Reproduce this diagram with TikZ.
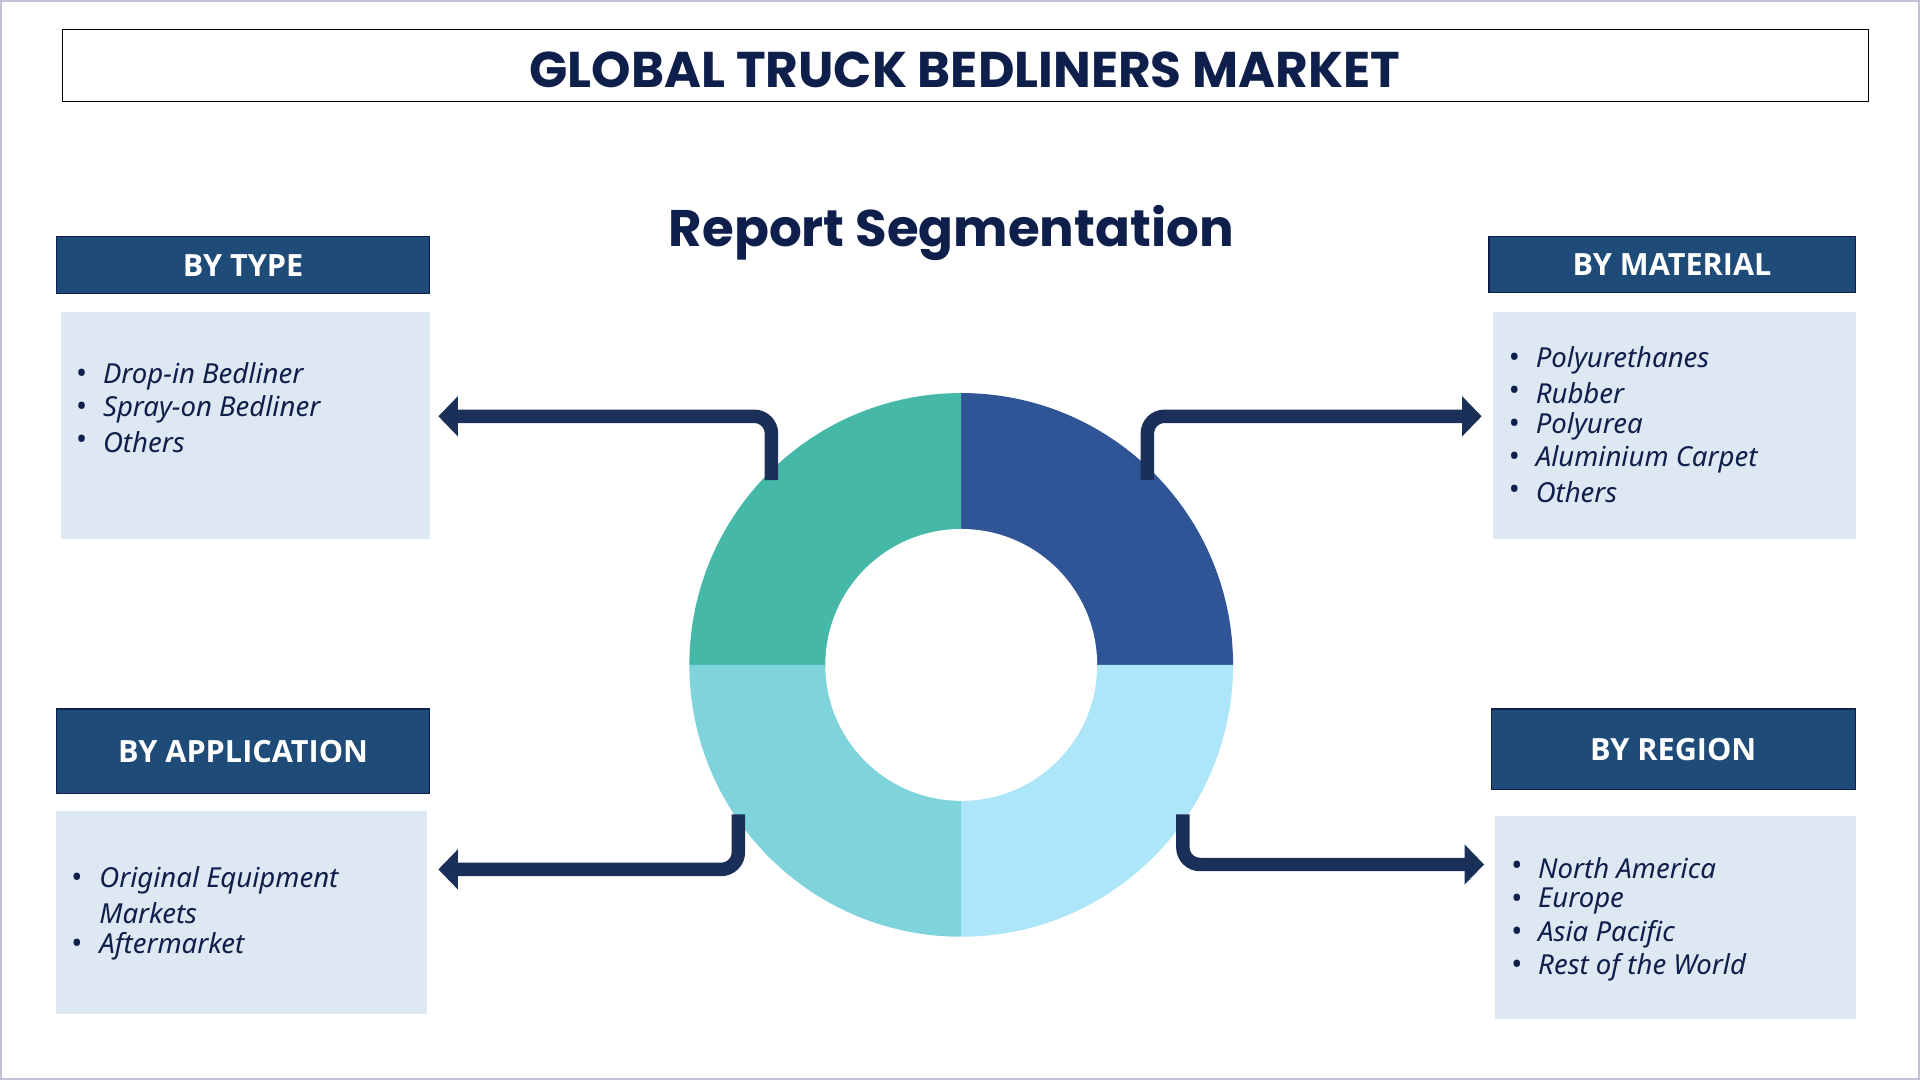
\documentclass[tikz,border=0pt]{standalone}
\usepackage{fontspec}
\setmainfont{Noto Sans}
\newfontfamily\headf{Poppins}
\newfontfamily\boxf{Open Sans}
\usetikzlibrary{arrows.meta}
\definecolor{navy}{HTML}{0F1F4B}
\definecolor{hdr}{HTML}{1F4B78}
\definecolor{cbox}{HTML}{DEE8F3}
\definecolor{arr}{HTML}{1B3058}
\definecolor{qa}{HTML}{2F5597}
\definecolor{qb}{HTML}{45B8A8}
\definecolor{qc}{HTML}{7FD3DB}
\definecolor{qd}{HTML}{ADE6F8}
\tikzset{
 hdrbox/.style={fill=hdr,draw=navy,line width=1pt},
 hdrtxt/.style={text=white,font=\boxf\bfseries\fontsize{25}{28}\selectfont},
 contbox/.style={fill=cbox},
 item/.style={anchor=west,font=\itshape\fontsize{22.5}{26}\selectfont,text=navy,inner sep=0},
 bul/.style={anchor=west,font=\fontsize{24}{26}\selectfont,text=navy,inner sep=0},
 conn/.style={draw=arr,line width=11pt,rounded corners=14pt,-{Triangle[width=32pt,length=16pt]}},
}
\begin{document}
\begin{tikzpicture}[x=1pt,y=-1pt]
\useasboundingbox (0,0) rectangle (1568,882);
\draw[draw=black!0,fill=white] (0,0) rectangle (1568,882);
\draw[draw=blue!20!gray!40,line width=2pt] (1,1) rectangle (1567,881);
\draw[line width=1pt] (51,24) rectangle (1526,83);
\node[text=navy,font=\headf\bfseries\fontsize{41}{44}\selectfont] (title) at (788,57) {GLOBAL TRUCK BEDLINERS MARKET};
\node[text=navy,font=\headf\bfseries\fontsize{42}{46}\selectfont] (rs) at (777,190) {Report Segmentation};
% headers
\draw[hdrbox] (46,193) rectangle (351,240);
\node[hdrtxt] (h1) at (198.5,216.5) {BY TYPE};
\draw[hdrbox] (1216,193) rectangle (1515,239);
\node[hdrtxt] (h2) at (1365.5,216) {BY MATERIAL};
\draw[hdrbox] (46,579) rectangle (351,648);
\node[hdrtxt] (h3) at (198.5,613.5) {BY APPLICATION};
\draw[hdrbox] (1218,579) rectangle (1515,645);
\node[hdrtxt] (h4) at (1366.5,612) {BY REGION};
% content boxes
\fill[contbox] (50,255) rectangle (351,440);
\fill[contbox] (1219,255) rectangle (1516,440);
\fill[contbox] (46,662) rectangle (349,828);
\fill[contbox] (1221,666) rectangle (1516,832);
% donut
\begin{scope}[shift={(785,543)},yscale=-1]
\fill[qa] (0,0) -- (0,222) arc[start angle=90,end angle=0,radius=222] -- cycle;
\fill[qb] (0,0) -- (-222,0) arc[start angle=180,end angle=90,radius=222] -- cycle;
\fill[qc] (0,0) -- (0,-222) arc[start angle=270,end angle=180,radius=222] -- cycle;
\fill[qd] (0,0) -- (222,0) arc[start angle=0,end angle=-90,radius=222] -- cycle;
\fill[white] (0,0) circle[radius=111];
\end{scope}
% connectors
\coordinate (s1) at (630,392); \coordinate (e1) at (358,340);
\coordinate (s2) at (937,392); \coordinate (e2) at (1210,340);
\coordinate (s3) at (603,665); \coordinate (e3) at (358,710);
\coordinate (s4) at (966,665); \coordinate (e4) at (1212,706);
\draw[conn] (s1) |- (e1);
\draw[conn] (s2) |- (e2);
\draw[conn] (s3) |- (e3);
\draw[conn] (s4) |- (e4);
% items
\foreach \t/\y [count=\i] in {Drop-in Bedliner/307,Spray-on Bedliner/334,Others/361}{
 \node[item] (ta\i) at (84,\y) {\t};
 \node[bul] (tb\i) at (62,\y) {\textbullet};}
\foreach \t/\y [count=\i] in {Polyurethanes/294,Rubber/321,Polyurea/348,Aluminium Carpet/375,Others/402}{
 \node[item] (ma\i) at (1254,\y) {\t};
 \node[bul] (mb\i) at (1232,\y) {\textbullet};}
\node[item] (aa1) at (81,719) {Original Equipment};
\node[item] (aa2) at (81,746) {Markets};
\node[item] (aa3) at (81,773) {Aftermarket};
\node[bul] (ab1) at (58,719) {\textbullet};
\node[bul] (ab3) at (58,773) {\textbullet};
\foreach \t/\y [count=\i] in {North America/709,Europe/736,Asia Pacific/763,Rest of the World/790}{
 \node[item] (ra\i) at (1256,\y) {\t};
 \node[bul] (rb\i) at (1234,\y) {\textbullet};}
\end{tikzpicture}
\end{document}
